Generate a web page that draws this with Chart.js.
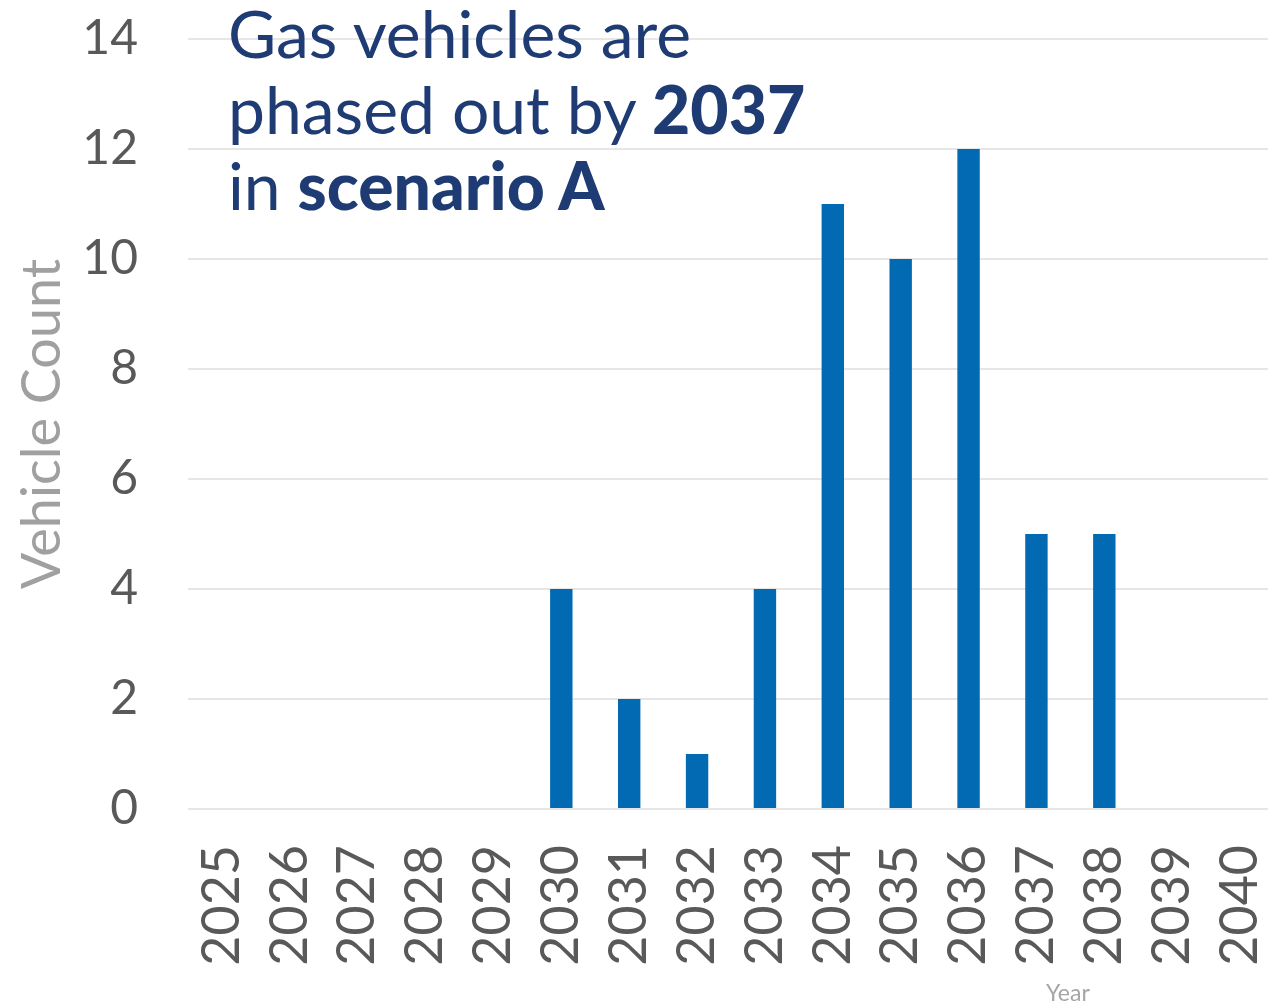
<!DOCTYPE html>
<html>
<head>
<meta charset="utf-8">
<script src="https://cdn.jsdelivr.net/npm/chart.js@4"></script>
<style>
  html, body { margin: 0; padding: 0; background: #fff; overflow: hidden; }
  #wrap { position: relative; width: 1268px; height: 1007px; overflow: hidden; }
  #titel {
    position: absolute; left: 228px; top: -5px;
    font-family: Lato, sans-serif; font-size: 66px; line-height: 76px;
    color: #1f3b73; pointer-events: none;
  }
  #titel b { font-weight: 900; }
  #jahr {
    position: absolute; left: 1046px; top: 978px;
    font-family: Lato, sans-serif; font-size: 23px; color: #a6a6a6;
  }
</style>
</head>
<body>
<div id="wrap">
  <!-- Canvas etwas breiter, Plot läuft rechts bis an den Rand -->
  <canvas id="chart" width="1274" height="1007"></canvas>
  <div id="titel">Gas vehicles are<br>phased out by <b>2037</b><br>in <b>scenario A</b></div>
  <div id="jahr">Year</div>
</div>
<script>
// Daten
const jahre = ["2025", "2026", "2027", "2028", "2029", "2030", "2031", "2032",
               "2033", "2034", "2035", "2036", "2037", "2038", "2039", "2040"];
const fahrzeuge = [0, 0, 0, 0, 0, 4, 2, 1, 4, 11, 10, 12, 5, 5, 0, 0];
const yTicks = [0, 2, 4, 6, 8, 10, 12, 14];

const ctx = document.getElementById("chart").getContext("2d");

new Chart(ctx, {
    type: "bar",
    data: {
        labels: jahre,
        datasets: [{
            label: "Vehicle Count",
            data: fahrzeuge,
            backgroundColor: "#026ab3",
            categoryPercentage: 1,
            barPercentage: 0.33
        }]
    },
    options: {
        responsive: false,
        animation: false,
        layout: { padding: { top: 39, right: 0, left: 0, bottom: 0 } },
        plugins: { legend: { display: false }, tooltip: { enabled: false } },
        scales: {
            x: {
                // keine extra Ränder für gedrehte Labels
                afterFit: (axis) => { axis.height = 198; axis.paddingLeft = 0; axis.paddingRight = 0; },
                grid: { display: false, drawTicks: false },
                border: { display: false },
                ticks: {
                    minRotation: 90, maxRotation: 90,
                    padding: 36,
                    color: "#595959",
                    font: { family: "Lato", size: 52 }
                }
            },
            y: {
                min: 0, max: 14,
                afterBuildTicks: (axis) => { axis.ticks = yTicks.map(v => ({ value: v })); },
                afterFit: (axis) => { axis.width = 188; axis.paddingTop = 0; axis.paddingBottom = 0; },
                grid: { color: "#e6e6e6", lineWidth: 2, drawTicks: false },
                border: { display: false },
                ticks: {
                    padding: 50,
                    color: "#595959",
                    font: { family: "Lato", size: 48 }
                },
                title: {
                    display: true,
                    text: "Vehicle Count",
                    color: "#a0a0a0",
                    font: { family: "Lato", size: 54 },
                    padding: { top: 10, bottom: 0 }
                }
            }
        }
    }
});
</script>
</body>
</html>
